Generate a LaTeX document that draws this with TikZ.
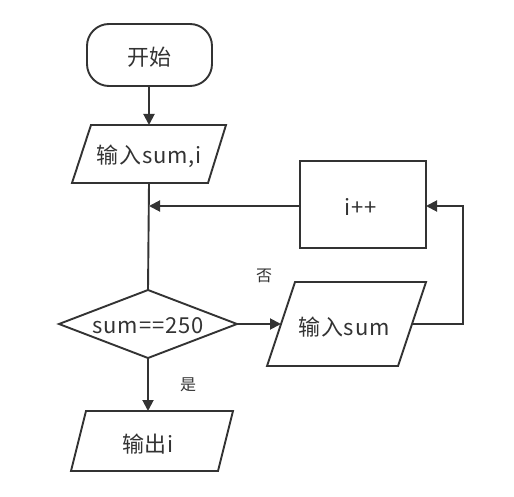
\documentclass[tikz,border=0pt]{standalone}
\usepackage{fontspec}
\setmainfont{Noto Sans CJK SC}
\usetikzlibrary{arrows.meta,shapes.geometric}
\definecolor{ln}{HTML}{333333}
\tikzset{
  box/.style={draw=ln,line width=1.9pt},
  conn/.style={draw=ln,line width=1.9pt,-{Triangle[length=11pt,width=11pt]}},
  plain/.style={draw=ln,line width=1.9pt},
  txt/.style={font=\fontsize{22}{26}\selectfont\addfontfeature{LetterSpace=4},text=ln},
  lbl/.style={font=\fontsize{16}{18}\selectfont,text=ln},
}
\begin{document}
\begin{tikzpicture}[x=1pt,y=-1pt]
\useasboundingbox (0,0) rectangle (514,497);
% start
\draw[box,rounded corners=22pt] (87,24) rectangle (212,86);
\node[txt] (start) at (149.5,57) {开始};
\coordinate (startb) at (149,86);
% input sum,i
\draw[box] (91,125) -- (226,125) -- (208,183) -- (72,183) -- cycle;
\node[txt] (in1) at (149,156) {输入sum,i};
\coordinate (in1t) at (149,125);
\coordinate (in1b) at (149,183);
% decision
\draw[box] (59,324) -- (148,290) -- (237,324) -- (148,358) -- cycle;
\node[txt] (dec) at (148,326) {sum==250};
\coordinate (dect) at (148,290);
\coordinate (decb) at (148,358);
\coordinate (decr) at (237,324);
% output
\draw[box] (86,411) -- (233,411) -- (218,471) -- (71,471) -- cycle;
\node[txt] (out) at (148,444) {输出i};
\coordinate (outt) at (148,411);
% i++
\draw[box] (300,161) rectangle (426,248);
\node[txt] (inc) at (361,207) {i++};
\coordinate (incl) at (300,206);
\coordinate (incr) at (426,206);
% input sum
\draw[box] (295,282) -- (426,282) -- (398,366) -- (267,366) -- cycle;
\node[txt] (in2) at (344,327) {输入sum};
\coordinate (in2l) at (281,324);
\coordinate (in2r) at (412,324);
% junctions
\coordinate (j1) at (149,206);
\coordinate (c1) at (463,324);
\coordinate (c2) at (463,206);
% connectors
\draw[conn] (startb) -- (in1t);
\draw[plain] (in1b) -- (dect);
\draw[conn] (incl) -- (j1);
\draw[conn] (decb) -- (outt);
\draw[conn] (decr) -- (in2l);
\draw[conn] (in2r) -- (c1) -- (c2) -- (incr);
% labels
\node[lbl] (yes) at (188,385) {是};
\node[lbl] (no) at (264,276) {否};
\end{tikzpicture}
\end{document}
